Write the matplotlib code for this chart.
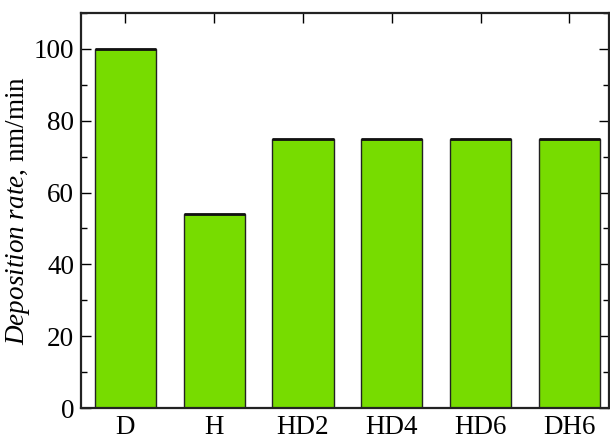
import matplotlib
matplotlib.use("Agg")
import matplotlib.pyplot as plt
from matplotlib.ticker import MultipleLocator

plt.rcParams["font.family"] = "Liberation Serif"
plt.rcParams["mathtext.fontset"] = "custom"
plt.rcParams["mathtext.rm"] = "Liberation Serif"
plt.rcParams["mathtext.it"] = "Liberation Serif:italic"

samples = ["D", "H", "HD2", "HD4", "HD6", "DH6"]
rates = [100, 54, 75, 75, 75, 75]

fig = plt.figure(figsize=(6.10, 4.41), dpi=100)
ax = fig.add_axes([0.1328, 0.0748, 0.8662, 0.8957])

x = list(range(len(samples)))
bars = ax.bar(x, rates, width=0.69, color="#77dc00", edgecolor="#222222",
              linewidth=1.0, zorder=2)
# heavier line along the top of each bar
ax.hlines(rates, [i - 0.345 for i in x], [i + 0.345 for i in x],
          colors="#111111", linewidth=2.0, zorder=3)

ax.set_xlim(-0.5, 5.45)
ax.set_ylim(0, 110)
ax.set_xticks(x)
ax.set_xticklabels(samples)
ax.yaxis.set_major_locator(MultipleLocator(20))
ax.yaxis.set_minor_locator(MultipleLocator(10))

ax.tick_params(axis="both", which="major", direction="in", length=7,
               width=1.0, labelsize=19.5, top=True, right=True)
ax.tick_params(axis="y", which="major", pad=5)
ax.tick_params(axis="x", which="major", pad=5)
ax.tick_params(axis="y", which="minor", direction="in", length=4,
               width=1.0, right=True)
ax.tick_params(axis="x", which="minor", bottom=False, top=False)

for s in ax.spines.values():
    s.set_linewidth(1.6)
    s.set_color("#222222")

ax.set_ylabel(r"$\it{Deposition\ rate}$, nm/min", fontsize=19.5, labelpad=1)

fig.savefig("out.png", dpi=100)
